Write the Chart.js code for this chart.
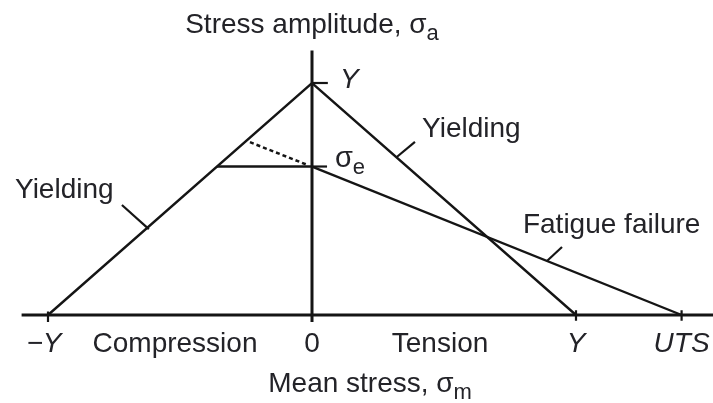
<!DOCTYPE html>
<html>
<head>
<meta charset="utf-8">
<script src="https://cdn.jsdelivr.net/npm/chart.js@4.4.1/dist/chart.umd.min.js"></script>
<style>
  html, body { margin: 0; padding: 0; background: #ffffff; }
  #wrap { width: 713px; height: 403px; }
</style>
</head>
<body>
<div id="wrap"><canvas id="haigh" width="713" height="403"></canvas></div>
<script>
// Stresses normalised by the yield strength Y.
const yieldStrength = 1.0;          // Y
const tensileStrength = 1.4;        // UTS
const enduranceLimit = 0.64;        // sigma_e

// Tick labels along the mean-stress axis
const xTickValues = [-yieldStrength, 0, yieldStrength, tensileStrength];
const xTickLabels = ['\u2212Y', '0', 'Y', 'UTS'];

// Yield envelope: -Y -> (0, Y) -> Y
const yieldEnvelope = [
  { x: -yieldStrength, y: 0 },
  { x: 0, y: yieldStrength },
  { x: yieldStrength, y: 0 }
];
// Goodman fatigue line: (0, sigma_e) -> UTS
const fatigueLine = [
  { x: 0, y: enduranceLimit },
  { x: tensileStrength, y: 0 }
];
// Compressive side: fatigue limit held constant until it meets yielding
const compressionPlateau = [
  { x: -(yieldStrength - enduranceLimit), y: enduranceLimit },
  { x: 0, y: enduranceLimit }
];
// Dotted extension on the compressive side
const dottedExtension = [
  { x: -0.235, y: 0.745 },
  { x: -0.02, y: 0.648 }
];
// Axes
const meanAxis = [ { x: -1.1, y: 0 }, { x: 1.52, y: 0 } ];
const ampAxis = [ { x: 0, y: -0.03 }, { x: 0, y: 1.14 } ];

// Leader lines for the curve captions
const leaderLeftYield = [ { x: -0.72, y: 0.474 }, { x: -0.618, y: 0.37 } ];
const leaderRightYield = [ { x: 0.39, y: 0.746 }, { x: 0.32, y: 0.68 } ];
const leaderFatigue = [ { x: 0.947, y: 0.293 }, { x: 0.89, y: 0.233 } ];

// Short tick marks
const tickMarks = [
  [ { x: -yieldStrength, y: 0.015 }, { x: -yieldStrength, y: -0.03 } ],
  [ { x: yieldStrength, y: 0.02 }, { x: yieldStrength, y: -0.025 } ],
  [ { x: tensileStrength, y: 0.02 }, { x: tensileStrength, y: -0.025 } ],
  [ { x: 0, y: yieldStrength }, { x: 0.06, y: yieldStrength } ],
  [ { x: 0, y: enduranceLimit }, { x: 0.057, y: enduranceLimit } ]
];

const INK = '#151515';
const TEXT = '#232328';
const FONT = '"Liberation Sans", Arial, Helvetica, sans-serif';

function seg(data, width, dash) {
  return {
    data: data,
    showLine: true,
    borderColor: INK,
    borderWidth: width,
    borderDash: dash || [],
    pointRadius: 0,
    pointHoverRadius: 0,
    fill: false,
    tension: 0
  };
}

const datasets = [
  seg(meanAxis, 3),
  seg(ampAxis, 3),
  seg(yieldEnvelope, 2.4),
  seg(fatigueLine, 2.4),
  seg(compressionPlateau, 2.4),
  seg(dottedExtension, 2.5, [4, 3]),
  seg(leaderLeftYield, 2.2),
  seg(leaderRightYield, 2.2),
  seg(leaderFatigue, 2.2)
].concat(tickMarks.map(t => seg(t, 2.2)));

// Draws a string with an optional subscript
function drawSub(ctx, main, sub, x, y, align, size, subSize, italic) {
  const f = (italic ? 'italic ' : '') + size + 'px ' + FONT;
  const fs = subSize + 'px ' + FONT;
  ctx.font = f;
  const wMain = ctx.measureText(main).width;
  ctx.font = fs;
  const wSub = sub ? ctx.measureText(sub).width : 0;
  const total = wMain + wSub;
  let x0 = x;
  if (align === 'center') x0 = x - total / 2;
  else if (align === 'right') x0 = x - total;
  ctx.textAlign = 'left';
  ctx.textBaseline = 'alphabetic';
  ctx.font = f;
  ctx.fillText(main, x0, y);
  if (sub) {
    ctx.font = fs;
    ctx.fillText(sub, x0 + wMain, y + subSize * 0.3);
  }
}

const captions = {
  id: 'captions',
  afterDraw(chart) {
    const ctx = chart.ctx;
    const xs = chart.scales.x, ys = chart.scales.y;
    const px = v => xs.getPixelForValue(v);
    const py = v => ys.getPixelForValue(v);
    ctx.save();
    ctx.fillStyle = TEXT;

    // Tick labels under the mean-stress axis
    const tickBase = py(-0.159);
    xTickValues.forEach((v, i) => {
      const italic = xTickLabels[i] !== '0';
      const shift = i === 0 ? -4 : 0;
      drawSub(ctx, xTickLabels[i], '', px(v) + shift, tickBase, 'center', 28, 20, italic);
    });
    drawSub(ctx, 'Compression', '', px(-0.519), tickBase, 'center', 28, 20, false);
    drawSub(ctx, 'Tension', '', px(0.485), tickBase, 'center', 28, 20, false);

    // Axis titles
    drawSub(ctx, 'Stress amplitude, \u03c3', 'a', px(0), py(1.2155), 'center', 28, 22, false);
    drawSub(ctx, 'Mean stress, \u03c3', 'm', px(0.22), py(-0.332), 'center', 28, 22, false);

    // Point labels on the amplitude axis
    drawSub(ctx, 'Y', '', px(0.106), py(0.978), 'left', 28, 20, true);
    drawSub(ctx, '\u03c3', 'e', px(0.087), py(0.638), 'left', 29, 22, false);

    // Curve captions
    drawSub(ctx, 'Yielding', '', px(-1.125), py(0.504), 'left', 28, 20, false);
    drawSub(ctx, 'Yielding', '', px(0.417), py(0.767), 'left', 28, 20, false);
    drawSub(ctx, 'Fatigue failure', '', px(0.799), py(0.353), 'left', 28, 20, false);
    ctx.restore();
  }
};

new Chart(document.getElementById('haigh'), {
  type: 'scatter',
  data: { datasets: datasets },
  options: {
    responsive: false,
    animation: false,
    layout: { padding: 0 },
    plugins: { legend: { display: false }, tooltip: { enabled: false }, title: { display: false } },
    scales: {
      x: { type: 'linear', display: false, min: -312 / 264, max: (713 - 312) / 264 },
      y: { type: 'linear', display: false, min: -88 / 232, max: 315 / 232 }
    }
  },
  plugins: [captions]
});
</script>
</body>
</html>
